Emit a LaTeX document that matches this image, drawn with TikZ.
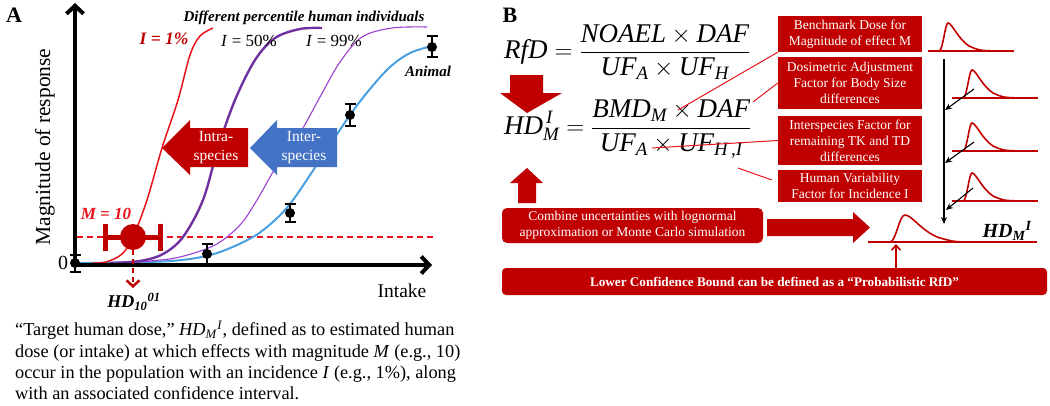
\documentclass[tikz,border=0pt]{standalone}
\usepackage{amsmath}
\usepackage{fontspec}
\setmainfont{Liberation Serif}
\usetikzlibrary{arrows.meta,calc}
\definecolor{dred}{HTML}{C00000}
\definecolor{bred}{HTML}{E8141A}
\definecolor{dpurple}{HTML}{7030A0}
\definecolor{lpurple}{HTML}{9A3FCF}
\definecolor{lblue}{HTML}{4A9FE0}
\definecolor{mblue}{HTML}{4472C4}
\newcommand\myfs[2]{\fontsize{#1}{#2}\selectfont}
\begin{document}
\begin{tikzpicture}[x=1pt,y=-1pt,
  axisline/.style={line width=4pt, -{Straight Barb[length=8pt,width=17pt]}},
  dotpt/.style={circle, fill=black, inner sep=0pt, minimum size=10pt},
  ebar/.style={line width=1.8pt, {Bar[width=11pt]}-{Bar[width=11pt]}},
  box/.style={fill=dred, text=white, align=center, inner sep=0pt, minimum width=144pt, font=\myfs{13.5}{16}},
  conn/.style={bred, line width=1pt},
  blk/.style={black, line width=1.1pt, -{Stealth[length=7pt,width=6pt]}},
  distline/.style={dred, line width=1.6pt},
  distpic/.pic={
    \draw[distline] (-11,0) -- (75,0);
    \draw[distline] (0,0) .. controls (4,0) and (6,-28) .. (9,-28) .. controls (13,-28) and (19,-12) .. (30,-5) .. controls (40,-0.5) .. (58,0);
  },
]
\useasboundingbox (0,0) rectangle (1050,405);

% ---------------- Panel A ----------------
\node[font=\myfs{22}{24}\bfseries] (la) at (14,15) {A};

% dashed M=10 line
\coordinate (dl0) at (77,237);
\coordinate (dl1) at (433,237);
\draw[bred, line width=1.6pt, dash pattern=on 6pt off 4pt] (dl0) -- (dl1);

% curves
\draw[lblue, line width=2pt] plot[smooth, tension=0.55] coordinates {(76,263) (150,262) (190,259) (220,252) (253,237) (275,220) (293,200) (320,160) (350,115) (370,89) (390,67) (410,53) (432,46)};
\draw[lpurple, line width=1.1pt] plot[smooth, tension=0.55] coordinates {(120,263) (150,261) (180,257) (215,245) (240,225) (257,200) (280,160) (300,133) (320,97) (340,62) (362,37) (392,28) (427,27)};
\draw[dpurple, line width=2.4pt] plot[smooth, tension=0.55] coordinates {(110,263) (140,261) (163,254) (183,237) (203,200) (218,148) (235,100) (255,60) (275,38) (300,29) (322,28)};
\draw[bred, line width=1.5pt] plot[smooth, tension=0.55] coordinates {(92,263) (106,262) (122,254) (133,237) (147,200) (162,148) (178,100) (190,55) (200,36) (213,28)};

% axes
\coordinate (orig) at (75,265);
\coordinate (ytop) at (75,3);
\coordinate (xend) at (432,265);
\draw[axisline] (orig) -- (ytop);
\draw[axisline] ($(orig)+(-2,0)$) -- (xend);

\node[rotate=90, font=\myfs{21.5}{24}] (ylab) at (45,147) {Magnitude of response};
\node[font=\myfs{20}{22}] (zero) at (63,263) {0};
\node[font=\myfs{19.5}{22}] (intake) at (402,291) {Intake};

% data points
\draw[ebar] (75,254) -- (75,273);
\node[dotpt] (p1) at (75,263) {};
\draw[ebar] (207,243) -- (207,265);
\node[dotpt] (p2) at (207,254) {};
\draw[ebar] (290,203) -- (290,223);
\node[dotpt] (p3) at (290,213) {};
\draw[ebar] (350,103) -- (350,127);
\node[dotpt] (p4) at (350,115) {};
\draw[ebar] (432,35) -- (432,58);
\node[dotpt] (p5) at (432,47) {};

% labels
\node[font=\myfs{15}{17}\bfseries\itshape] (diff) at (304,18) {Different percentile human individuals};
\node[font=\myfs{17.5}{20}\bfseries\itshape, text=dred] (i1) at (164,39) {I = 1\%};
\node[font=\myfs{17}{20}] (i50) at (249,41) {\textit{I} = 50\%};
\node[font=\myfs{17}{20}] (i99) at (334,41) {\textit{I} = 99\%};
\node[font=\myfs{15}{17}\bfseries\itshape] (animal) at (428,71) {Animal};

% block arrows
\fill[dred] (162,148) -- (190,120) -- (190,128) -- (248,128) -- (248,167) -- (190,167) -- (190,175) -- cycle;
\node[text=white, align=center, font=\myfs{15.5}{19}] (intra) at (216,148) {Intra-\\species};
\fill[mblue] (250,148) -- (277,120) -- (277,128) -- (337,128) -- (337,167) -- (277,167) -- (277,175) -- cycle;
\node[text=white, align=center, font=\myfs{15.5}{19}] (inter) at (304,148) {Inter-\\species};

% M = 10 point
\node[font=\myfs{17}{20}\bfseries\itshape, text=bred] (m10) at (106,214) {M = 10};
\draw[dred, line width=5pt, {Bar[width=27pt]}-{Bar[width=27pt]}] (103,237) -- (163,237);
\node[circle, fill=dred, minimum size=26pt, inner sep=0pt] (hd) at (133,237) {};
\coordinate (hdend) at (133,288);
\draw[dred, line width=2.5pt, dash pattern=on 5pt off 4pt, -{Straight Barb[length=6pt,width=13pt]}] (hd.south) -- (hdend);
\node[font=\myfs{18}{20}\bfseries\itshape] (hdlab) at (134,302) {HD\textsubscript{10}\textsuperscript{01}};

% caption
\node[anchor=north west, align=left, inner sep=0pt, font=\myfs{18.3}{21.3}] (cap) at (15,321) {%
“Target human dose,” \textit{HD}\textsubscript{\textit{M}}\textsuperscript{\textit{I}}, defined as to estimated human\\
dose (or intake) at which effects with magnitude \textit{M} (e.g., 10)\\
occur in the population with an incidence \textit{I} (e.g., 1\%), along\\
with an associated confidence interval.};

% ---------------- Panel B ----------------
\node[font=\myfs{22}{24}\bfseries] (lb) at (510,15) {B};

\node[anchor=west, inner sep=0pt, font=\myfs{27}{32}] (rfd) at (504,52) {$\textit{RfD} = \dfrac{\textit{NOAEL}\times\textit{DAF}}{\textit{UF}_{\textit{A}}\times\textit{UF}_{\textit{H}}}$};
\node[anchor=west, inner sep=0pt, font=\myfs{27}{32}] (hdeq) at (504,129) {$\textit{HD}^{\,\textit{I}}_{\textit{M}} = \dfrac{\textit{BMD}_{\textit{M}}\times\textit{DAF}}{\textit{UF}_{\textit{A}}\times\textit{UF}_{\textit{H\,,I}}}$};

% block arrows down/up
\fill[dred] (510,75) -- (543,75) -- (543,93) -- (562,93) -- (527,113) -- (500,93) -- (510,93) -- cycle;
\fill[dred] (527,168) -- (543,183) -- (536,183) -- (536,203) -- (518,203) -- (518,183) -- (510,183) -- cycle;

% boxes
\node[box, minimum height=36pt] (b1) at (850,34) {Benchmark Dose for\\Magnitude of effect M};
\node[box, minimum height=52pt] (b2) at (850,83) {Dosimetric Adjustment\\Factor for Body Size\\differences};
\node[box, minimum height=49pt] (b3) at (850,140.5) {Interspecies Factor for\\remaining TK and TD\\differences};
\node[box, minimum height=32pt] (b4) at (850,186) {Human Variability\\Factor for Incidence I};

% connectors
\coordinate (k1) at (678,110);
\coordinate (k2) at (753,102);
\coordinate (k3) at (652,148);
\coordinate (k4) at (738,168);
\draw[conn] (k1) -- (b1.south west);
\draw[conn] (k2) -- (b2.west);
\draw[conn] (k3) -- (b3.west);
\draw[conn] (k4) -- ($(b4.west)+(-6,-6)$);

% distributions
\pic at (939,51) {distpic};
\pic at (963,98) {distpic};
\pic at (963,151) {distpic};
\pic at (963,201) {distpic};
\draw[distline] (868,242) -- (1037,242);
\draw[distline] (890,242) .. controls (896,242) and (899,215) .. (905,215) .. controls (912,215) and (922,232) .. (940,238) .. controls (955,242) .. (975,242);
\node[font=\myfs{20}{22}\bfseries\itshape] (hdm) at (1007,231) {HD\textsubscript{M}\textsuperscript{I}};

% black arrows
\coordinate (vtop) at (944,59);
\coordinate (vbot) at (944,224);
\draw[blk] (vtop) -- (vbot);
\coordinate (a1s) at (974,89);  \coordinate (a1e) at (945,110);
\coordinate (a2s) at (974,142); \coordinate (a2e) at (945,163);
\coordinate (a3s) at (973,188); \coordinate (a3e) at (946,210);
\draw[blk] (a1s) -- (a1e);
\draw[blk] (a2s) -- (a2e);
\draw[blk] (a3s) -- (a3e);

% combine box and arrow
\node[fill=dred, text=white, rounded corners=5pt, minimum width=261pt, minimum height=35pt, inner sep=0pt, align=center, font=\myfs{13.5}{16}] (comb) at (632.5,225.5) {Combine uncertainties with lognormal\\approximation or Monte Carlo simulation};
\fill[dred] (767,219) -- (853,219) -- (853,212) -- (870,227.5) -- (853,243) -- (853,236) -- (767,236) -- cycle;

% bottom box
\node[fill=dred, text=white, rounded corners=4pt, minimum width=545pt, minimum height=27pt, inner sep=0pt, font=\myfs{13.2}{15}\bfseries] (lcb) at (774.5,281.5) {Lower Confidence Bound can be defined as a “Probabilistic RfD”};
\coordinate (lcbtip) at (896,244);
\draw[dred, line width=1.6pt, -{Straight Barb[length=5pt,width=9pt]}] (lcb.north -| lcbtip) -- (lcbtip);
\end{tikzpicture}
\end{document}
